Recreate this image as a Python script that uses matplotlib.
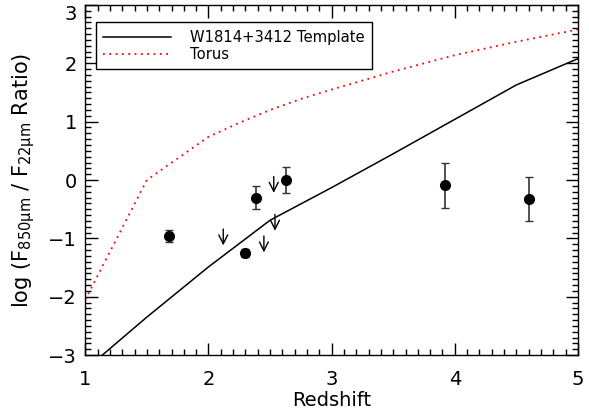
import numpy as np
import matplotlib
matplotlib.use('Agg')
import matplotlib.pyplot as plt
from matplotlib.ticker import MultipleLocator

plt.rcParams['font.family'] = ['DejaVu Sans']
plt.rcParams['mathtext.fontset'] = 'dejavusans'

# template curve (W1814+3412) and torus curve
template_z = [1.0, 1.5, 2.0, 2.5, 3.0, 3.5, 4.0, 4.5, 5.0]
template_ratio = [-3.25, -2.35, -1.49, -0.69, -0.13, 0.45, 1.04, 1.63, 2.08]
torus_z = [1.0, 1.5, 2.0, 2.25, 2.5, 2.75, 3.0, 3.5, 4.0, 4.5, 5.0]
torus_ratio = [-2.05, 0.0, 0.74, 0.98, 1.20, 1.39, 1.55, 1.86, 2.14, 2.37, 2.58]

# detections
det_z = [1.68, 2.30, 2.39, 2.63, 3.92, 4.60]
det_ratio = [-0.96, -1.25, -0.30, 0.00, -0.09, -0.33]
det_err = [0.11, 0.07, 0.19, 0.23, 0.39, 0.38]

# upper limits
lim_z = [2.12, 2.45, 2.53, 2.54]
lim_ratio = [-0.84, -0.96, 0.06, -0.59]
arrow_len = 0.28

fig = plt.figure(figsize=(5.89, 4.16), dpi=100)
ax = fig.add_axes([0.1448, 0.1466, 0.8365, 0.8414])

ax.plot(template_z, template_ratio, color='black', lw=1.1, label='W1814+3412 Template')
ax.plot(torus_z, torus_ratio, color='red', lw=1.3, linestyle=(0, (1, 2.5)), label='Torus')

ax.errorbar(det_z, det_ratio, yerr=det_err, fmt='o', color='black', ms=7,
            ecolor='#333333', elinewidth=1.2, capsize=3, capthick=1.0)

for z, r in zip(lim_z, lim_ratio):
    ax.annotate('', xy=(z, r - arrow_len), xytext=(z, r),
                arrowprops=dict(arrowstyle='->', color='black', lw=1.0,
                                mutation_scale=16, shrinkA=0, shrinkB=0))

ax.set_xlim(1, 5)
ax.set_ylim(-3, 3)
ax.xaxis.set_major_locator(MultipleLocator(1))
ax.xaxis.set_minor_locator(MultipleLocator(0.1))
ax.set_yticks([-3, -2, -1, 0, 1, 2, 3])
ax.yaxis.set_minor_locator(MultipleLocator(0.1))
ax.tick_params(which='both', direction='in', top=True, right=True, labelsize=14, width=1)
ax.tick_params(which='major', length=9)
ax.tick_params(axis='x', which='major', pad=11)
ax.tick_params(axis='y', which='major', pad=6)
ax.tick_params(which='minor', length=4.5)
for s in ax.spines.values():
    s.set_linewidth(1)

# top label sits below its tick, as in the original
ax.yaxis.get_major_ticks()[-1].label1.set_va('top')

ax.set_xlabel('Redshift', fontsize=14, labelpad=1)
ax.set_ylabel(r'log (F$_{\mathregular{850μm}}$ / F$_{\mathregular{22μm}}$ Ratio)', fontsize=15, labelpad=8)

leg = ax.legend(loc='upper left', bbox_to_anchor=(0.021, 0.95), fontsize=10.6,
                fancybox=False, framealpha=1, edgecolor='black', handlelength=4.6,
                borderpad=0.5, labelspacing=0.15, handletextpad=1.3, borderaxespad=0)
leg.get_frame().set_linewidth(1)

fig.savefig('out.png', dpi=100)
